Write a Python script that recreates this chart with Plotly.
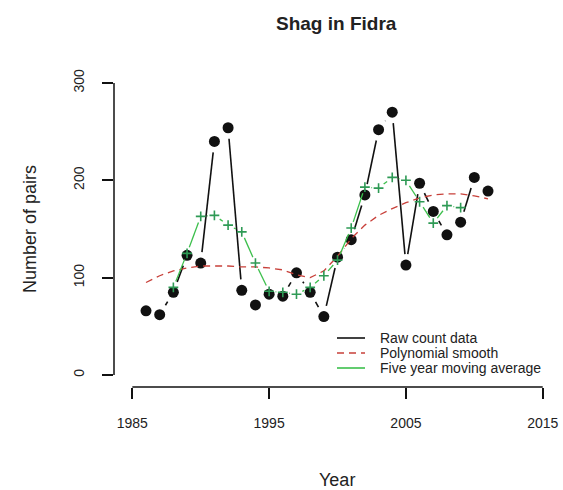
import math
import plotly.graph_objects as go

# Shag breeding pairs counted on Fidra
years = list(range(1986, 2012))
raw_counts = [66, 62, 85, 123, 115, 240, 254, 87, 72, 83, 81, 105, 85,
              60, 121, 139, 185, 252, 270, 113, 197, 168, 144, 157, 203, 189]

# Fitted polynomial smooth, one value per year
poly_smooth = [95, 102, 107, 110, 112, 112, 112, 111, 111, 110, 108, 103, 100,
               107, 122, 140, 154, 164, 171, 177, 182, 185, 186, 186, 184, 181]

# Centred five-year moving average (defined 1988-2009)
ma_years = list(range(1988, 2010))
moving_avg = [90, 125, 163, 164, 154, 147, 115, 86, 85, 83, 90, 102, 118,
              151, 193, 192, 203, 200, 178, 156, 174, 172]

x_ticks = [1985, 1995, 2005, 2015]
y_ticks = [0, 100, 200, 300]

legend_names = ["Raw count data", "Polynomial smooth", "Five year moving average"]

W, H = 563, 490
M_L, M_R, M_T, M_B = 114, 4, 71, 103
PLOT_W, PLOT_H = W - M_L - M_R, H - M_T - M_B
X_RANGE = [1983.66, 2016.19]
Y_RANGE = [-12.3, 312.3]
SX = PLOT_W / (X_RANGE[1] - X_RANGE[0])
SY = PLOT_H / (Y_RANGE[1] - Y_RANGE[0])

FONT = "Liberation Sans, Arial, sans-serif"
TEXT = "#222222"
BLACK = "#111111"
RED = "#c8403a"
GREEN_LINE = "#3cbf4c"
GREEN_PT = "#2e9a55"
RED_DASH = "7px,5px"


def gapped(xs, ys, gap_px):
    """Line pieces that stop short of each point, like R's type='b'."""
    gx, gy = [], []
    for x0, y0, x1, y1 in zip(xs[:-1], ys[:-1], xs[1:], ys[1:]):
        length = math.hypot((x1 - x0) * SX, (y1 - y0) * SY)
        if length <= 2 * gap_px:
            continue
        f = gap_px / length
        gx += [x0 + f * (x1 - x0), x1 - f * (x1 - x0), None]
        gy += [y0 + f * (y1 - y0), y1 - f * (y1 - y0), None]
    return gx, gy


fig = go.Figure()

rx, ry = gapped(years, raw_counts, 11)
fig.add_trace(go.Scatter(x=rx, y=ry, mode="lines", showlegend=False,
                         line=dict(color=BLACK, width=1.6)))
fig.add_trace(go.Scatter(x=years, y=raw_counts, mode="markers", showlegend=False,
                         marker=dict(color=BLACK, size=11, line=dict(width=0))))

fig.add_trace(go.Scatter(x=years, y=poly_smooth, mode="lines", showlegend=False,
                         line=dict(color=RED, width=1.3, dash=RED_DASH)))

mx, my = gapped(ma_years, moving_avg, 6.5)
fig.add_trace(go.Scatter(x=mx, y=my, mode="lines", showlegend=False,
                         line=dict(color=GREEN_LINE, width=1.3)))
fig.add_trace(go.Scatter(x=ma_years, y=moving_avg, mode="markers", showlegend=False,
                         marker=dict(symbol="cross-thin", size=7, color=GREEN_PT,
                                     line=dict(color=GREEN_PT, width=1.6))))


def px_to_paper_x(px):
    return (px - M_L) / PLOT_W


def px_to_paper_y(py):
    return (H - M_B - py) / PLOT_H


# Legend drawn without a box: line samples and labels
legend_styles = [(BLACK, "solid"), (RED, RED_DASH), (GREEN_LINE, "solid")]
legend_rows = [338, 353, 368]
shapes = [
    dict(type="line", xref="x", yref="paper", x0=x_ticks[0], x1=x_ticks[-1],
         y0=0, y1=0, line=dict(color=BLACK, width=1.5)),
    dict(type="line", xref="paper", yref="y", x0=0, x1=0,
         y0=y_ticks[0], y1=y_ticks[-1], line=dict(color=BLACK, width=1.5)),
]
annotations = [
    dict(text="<b>Shag in Fidra</b>", xref="paper", yref="paper", x=0.5, y=1,
         yanchor="middle", yshift=48, showarrow=False,
         font=dict(family=FONT, size=19, color=TEXT)),
    dict(text="Year", xref="paper", yref="paper", x=0.5, y=0,
         yanchor="middle", yshift=-93, showarrow=False,
         font=dict(family=FONT, size=18, color=TEXT)),
    dict(text="Number of pairs", xref="paper", yref="y", x=0, y=150,
         xanchor="center", xshift=-84, textangle=-90, showarrow=False,
         font=dict(family=FONT, size=18, color=TEXT)),
]
for name, (color, dash), row in zip(legend_names, legend_styles, legend_rows):
    yp = px_to_paper_y(row)
    shapes.append(dict(type="line", xref="paper", yref="paper",
                       x0=px_to_paper_x(337), x1=px_to_paper_x(365), y0=yp, y1=yp,
                       line=dict(color=color, width=1.6, dash=dash)))
    annotations.append(dict(text=name, xref="paper", yref="paper",
                            x=px_to_paper_x(378), y=yp, xanchor="left",
                            yanchor="middle", showarrow=False,
                            font=dict(family=FONT, size=14, color=TEXT)))

axis_common = dict(showline=False, showgrid=False, zeroline=False,
                   ticks="outside", ticklen=11, tickwidth=1.5, tickcolor=BLACK,
                   tickfont=dict(family=FONT, size=14, color=TEXT),
                   ticklabelstandoff=12)

fig.update_layout(
    width=W, height=H,
    margin=dict(l=M_L, r=M_R, t=M_T, b=M_B),
    paper_bgcolor="white", plot_bgcolor="white",
    showlegend=False,
    font=dict(family=FONT, color=TEXT),
    xaxis=dict(range=X_RANGE, tickvals=x_ticks, ticktext=[str(v) for v in x_ticks],
               **axis_common),
    yaxis=dict(range=Y_RANGE, tickvals=y_ticks, ticktext=[str(v) for v in y_ticks],
               tickangle=-90, **axis_common),
    shapes=shapes,
    annotations=annotations,
)

fig.write_html("out.html")
